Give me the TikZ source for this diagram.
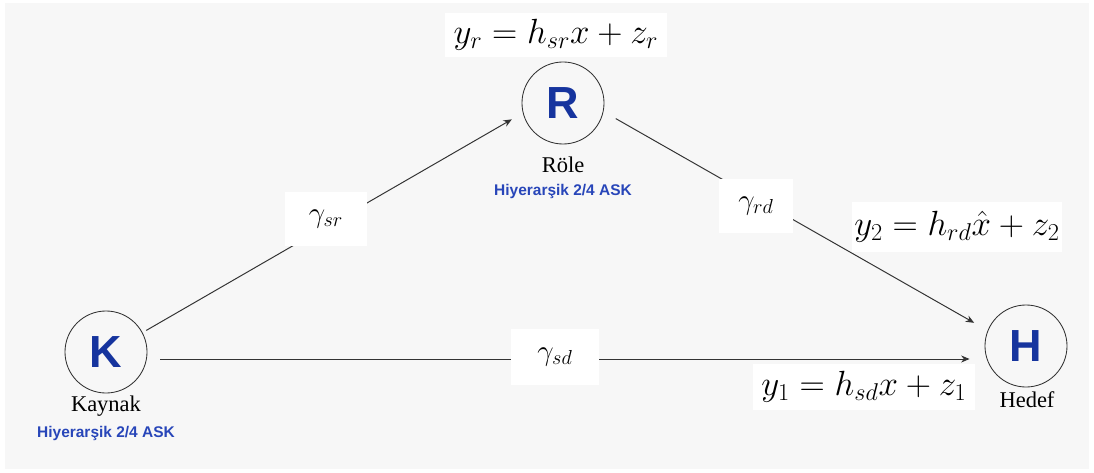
\documentclass[tikz,border=0pt]{standalone}
\usepackage{fontspec}
\setmainfont{Liberation Serif}
\newfontfamily\sansfont{Liberation Sans}
\usetikzlibrary{arrows.meta}
\definecolor{knotenblau}{RGB}{22,52,158}
\definecolor{textblau}{RGB}{40,70,185}
\definecolor{hintergrund}{RGB}{247,247,247}
\tikzset{
  knoten/.style={circle,draw=black!80,line width=0.6pt,minimum size=2.05cm,inner sep=0pt,
    text=knotenblau,font=\sansfont\bfseries\fontsize{32}{36}\selectfont},
  knotenname/.style={font=\fontsize{16}{18}\selectfont},
  modul/.style={text=textblau,font=\sansfont\bfseries\fontsize{11}{13}\selectfont},
  kanal/.style={fill=white,inner sep=0pt,font=\fontsize{21}{24}\selectfont},
  gleichung/.style={fill=white,inner sep=0pt,font=\fontsize{24}{28}\selectfont},
  pfeil/.style={draw=black!80,line width=0.7pt,-{Stealth[length=6pt,width=5pt]}}
}
\begin{document}
\begin{tikzpicture}[x=0.025cm,y=-0.025cm]
\useasboundingbox (0,0) rectangle (1094,473);
% Hintergrund
\fill[hintergrund] (5,3) rectangle (1089,469);
% Quelle, Relais und Ziel
\node[knoten] (K) at (106,352) {K};
\node[knoten] (R) at (563,103) {R};
\node[knoten] (H) at (1026,346) {H};
\node[knotenname] (Kname) at (106,406) {Kaynak};
\node[modul] (Kmodul) at (106,433) {Hiyerarşik 2/4 ASK};
\node[knotenname] (Rname) at (563,165) {Röle};
\node[modul] (Rmodul) at (563,192) {Hiyerarşik 2/4 ASK};
\node[knotenname] (Hname) at (1027,400) {Hedef};
% Verbindungen
\draw[pfeil,shorten <=3pt,shorten >=9pt] (K.28) -- (R.194);
\draw[pfeil,shorten <=10pt,shorten >=11pt] (R.-12) -- (H.158);
\draw[pfeil] ([shift={(13,7)}]K.east) -- ([shift={(-15,13)}]H.west);
% Kanalgewinne (Kaesten 81x54, 87x55, 74x54 Pixel)
\node[kanal,minimum width=2.025cm,minimum height=1.35cm] (gsr) at (326,219) {$\gamma_{sr}$};
\node[kanal,minimum width=2.175cm,minimum height=1.375cm] (gsd) at (555,357) {$\gamma_{sd}$};
\node[kanal,minimum width=1.85cm,minimum height=1.35cm] (grd) at (756,206) {$\gamma_{rd}$};
% Empfangssignale
\node[gleichung,minimum width=5.55cm,minimum height=1.1cm] (yr) at (556,35) {$y_r = h_{sr}x + z_r$};
\node[gleichung,minimum width=5.225cm,minimum height=1.225cm] (y2) at (957,227) {$y_2 = h_{rd}\hat{x} + z_2$};
\node[gleichung,minimum width=5.525cm,minimum height=1.125cm] (y1) at (864,387) {$y_1 = h_{sd}x + z_1$};
\end{tikzpicture}
\end{document}
